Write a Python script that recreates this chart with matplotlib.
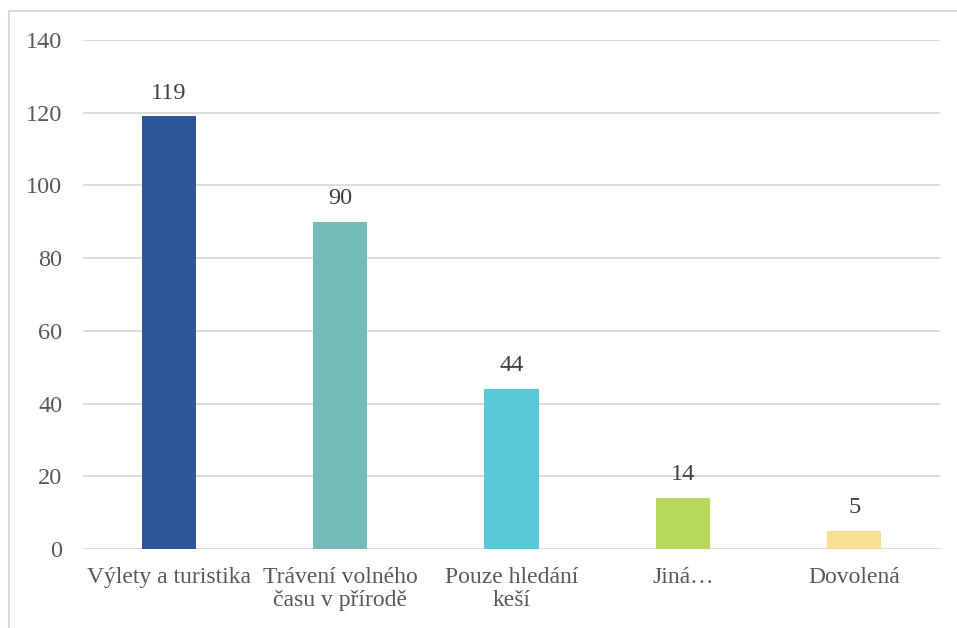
import matplotlib.pyplot as plt
from matplotlib.patches import Rectangle

plt.rcParams['font.family'] = ['Liberation Serif', 'DejaVu Serif']

categories = ["Výlety a turistika", "Trávení volného\nčasu v přírodě",
              "Pouze hledání\nkeší", "Jiná…", "Dovolená"]
values = [119, 90, 44, 14, 5]
colors = ["#2E5597", "#75BBB8", "#55C9D6", "#B5D95A", "#F9DE94"]
yticks = [0, 20, 40, 60, 80, 100, 120, 140]

txt = "#595959"
W, H = 957, 628
fig = plt.figure(figsize=(W / 100, H / 100), dpi=100)
ax = fig.add_axes([83 / W, 1 - 549 / H, (940 - 83) / W, (549 - 40) / H])

x = range(len(categories))
ax.bar(x, values, width=0.316, color=colors, zorder=3)
for i, v in zip(x, values):
    ax.text(i, v + 3.5, str(v), ha='center', va='bottom', fontsize=17.5, color="#404040")

ax.set_xlim(-0.5, len(categories) - 0.5)
ax.set_ylim(0, 140)
ax.set_yticks(yticks)
ax.set_yticklabels([str(t) for t in yticks], fontsize=17.5, color=txt)
ax.set_xticks(list(x))
ax.set_xticklabels(categories, fontsize=17, color=txt, linespacing=1.15)
ax.tick_params(axis='both', length=0)
ax.tick_params(axis='y', pad=15)
ax.tick_params(axis='x', pad=13)
ax.grid(axis='y', color="#D9D9D9", linewidth=1.3, zorder=0)
for s in ax.spines.values():
    s.set_visible(False)

fig.patches.append(Rectangle((9 / W, -0.1), 1.1, 1 - 11 / H + 0.1, transform=fig.transFigure,
                             fill=False, edgecolor="#D9D9D9", linewidth=1.5))

fig.savefig("out.png", dpi=100)
